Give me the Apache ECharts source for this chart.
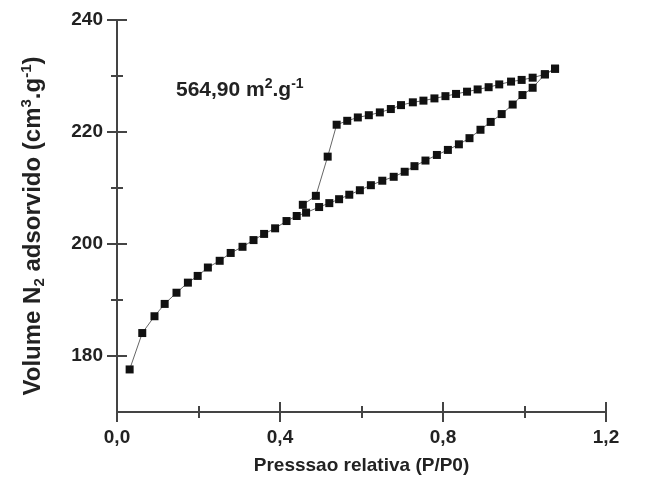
<!DOCTYPE html>
<html>
<head>
<meta charset="utf-8">
<script src="https://cdn.jsdelivr.net/npm/echarts@6/dist/echarts.min.js"></script>
<style>
  html, body { margin: 0; padding: 0; background: #fff; }
  #chart { width: 662px; height: 492px; }
</style>
</head>
<body>
<div id="chart"></div>
<script>
// adsorcao (ramo inferior)
var adsX = [0.031, 0.062, 0.092, 0.117, 0.146, 0.174, 0.198, 0.223, 0.252, 0.279,
  0.308, 0.335, 0.361, 0.388, 0.416, 0.441, 0.464, 0.496, 0.521, 0.545,
  0.570, 0.596, 0.623, 0.651, 0.679, 0.706, 0.730, 0.757, 0.785, 0.812,
  0.839, 0.865, 0.892, 0.917, 0.944, 0.971, 0.995, 1.020, 1.050, 1.075];
var adsY = [177.6, 184.1, 187.1, 189.3, 191.3, 193.1, 194.3, 195.8, 197.0, 198.4,
  199.5, 200.7, 201.8, 202.8, 204.1, 205.0, 205.6, 206.6, 207.3, 208.0,
  208.8, 209.6, 210.5, 211.3, 212.0, 212.9, 213.9, 214.9, 215.9, 216.8,
  217.8, 218.9, 220.4, 221.8, 223.2, 224.9, 226.6, 227.9, 230.3, 231.3];
// dessorcao (ramo superior)
var desX = [1.075, 1.050, 1.020, 0.993, 0.967, 0.938, 0.912, 0.885, 0.859, 0.832,
  0.806, 0.779, 0.752, 0.726, 0.697, 0.672, 0.645, 0.618, 0.591, 0.565,
  0.539, 0.517, 0.488, 0.456];
var desY = [231.3, 230.3, 229.7, 229.3, 229.0, 228.5, 228.0, 227.6, 227.2, 226.8,
  226.4, 226.0, 225.6, 225.3, 224.8, 224.1, 223.5, 223.0, 222.6, 222.0,
  221.3, 215.6, 208.6, 207.0];
var yMajor = [180, 200, 220, 240];
var yMinor = [190, 210, 230];

function pts(xs, ys) {
  return xs.map(function (x, i) { return [x, ys[i]]; });
}

var axisColor = '#444';
var textColor = '#222';
var font = 'Liberation Sans, Arial, sans-serif';

function xAx(inside, main) {
  return {
    type: 'value', min: 0, max: 1.2, interval: 0.4, position: 'bottom',
    axisLine: { show: main, lineStyle: { color: axisColor, width: 2 } },
    axisTick: { show: true, inside: inside, length: 10, lineStyle: { color: axisColor, width: 2 } },
    minorTick: { show: true, splitNumber: 2, length: 6, lineStyle: { color: axisColor, width: 2 } },
    splitLine: { show: false }, minorSplitLine: { show: false },
    axisLabel: {
      show: main, margin: 16, fontSize: 19, fontWeight: 'bold', color: textColor, fontFamily: font,
      formatter: function (v) { return v.toFixed(1).replace('.', ','); }
    },
    name: main ? 'Presssao relativa (P/P0)' : '',
    nameLocation: 'middle', nameGap: 44,
    nameTextStyle: { fontSize: 19, fontWeight: 'bold', color: textColor, fontFamily: font }
  };
}

function yAx(vals, inside, len, main) {
  return {
    type: 'value', min: 170, max: 240, position: 'left',
    axisLine: { show: main, lineStyle: { color: axisColor, width: 2 } },
    axisTick: { show: true, inside: inside, length: len, customValues: vals, lineStyle: { color: axisColor, width: 2 } },
    splitLine: { show: false },
    axisLabel: {
      show: main, customValues: vals, margin: 14, fontSize: 19, fontWeight: 'bold',
      color: textColor, fontFamily: font
    },
    name: main ? 'Volume N{sub|2} adsorvido (cm{sup|3}.g{sup|-1})' : '',
    nameLocation: 'middle', nameGap: 70,
    nameTextStyle: {
      fontSize: 24, fontWeight: 'bold', color: textColor, fontFamily: font, lineHeight: 28,
      padding: [0, 20, 0, 0],
      rich: {
        sub: { fontSize: 15, fontWeight: 'bold', color: textColor, fontFamily: font, verticalAlign: 'bottom', lineHeight: 28 },
        sup: { fontSize: 15, fontWeight: 'bold', color: textColor, fontFamily: font, verticalAlign: 'top', lineHeight: 28 }
      }
    }
  };
}

var chart = echarts.init(document.getElementById('chart'));
chart.setOption({
  animation: false,
  backgroundColor: '#fff',
  grid: { left: 117, right: 56, top: 20, bottom: 80 },
  xAxis: [xAx(false, true), xAx(true, false)],
  yAxis: [
    yAx(yMajor, false, 10, true),
    yAx(yMajor, true, 10, false),
    yAx(yMinor, false, 6, false),
    yAx(yMinor, true, 6, false)
  ],
  // texto da area superficial
  graphic: [{
    type: 'text', left: 176, top: 77,
    style: {
      text: '564,90 m{sup|2}.g{sup|-1}',
      fontSize: 21, fontWeight: 'bold', fill: textColor, fontFamily: font, lineHeight: 27,
      rich: {
        sup: { fontSize: 14, fontWeight: 'bold', fill: textColor, fontFamily: font, verticalAlign: 'top', lineHeight: 27 }
      }
    }
  }],
  series: [
    {
      type: 'line', data: pts(adsX, adsY), symbol: 'rect', symbolSize: 8,
      itemStyle: { color: '#111' }, lineStyle: { color: '#666', width: 1 }
    },
    {
      type: 'line', data: pts(desX, desY), symbol: 'rect', symbolSize: 8,
      itemStyle: { color: '#111' }, lineStyle: { color: '#666', width: 1 }
    }
  ]
});
</script>
</body>
</html>
